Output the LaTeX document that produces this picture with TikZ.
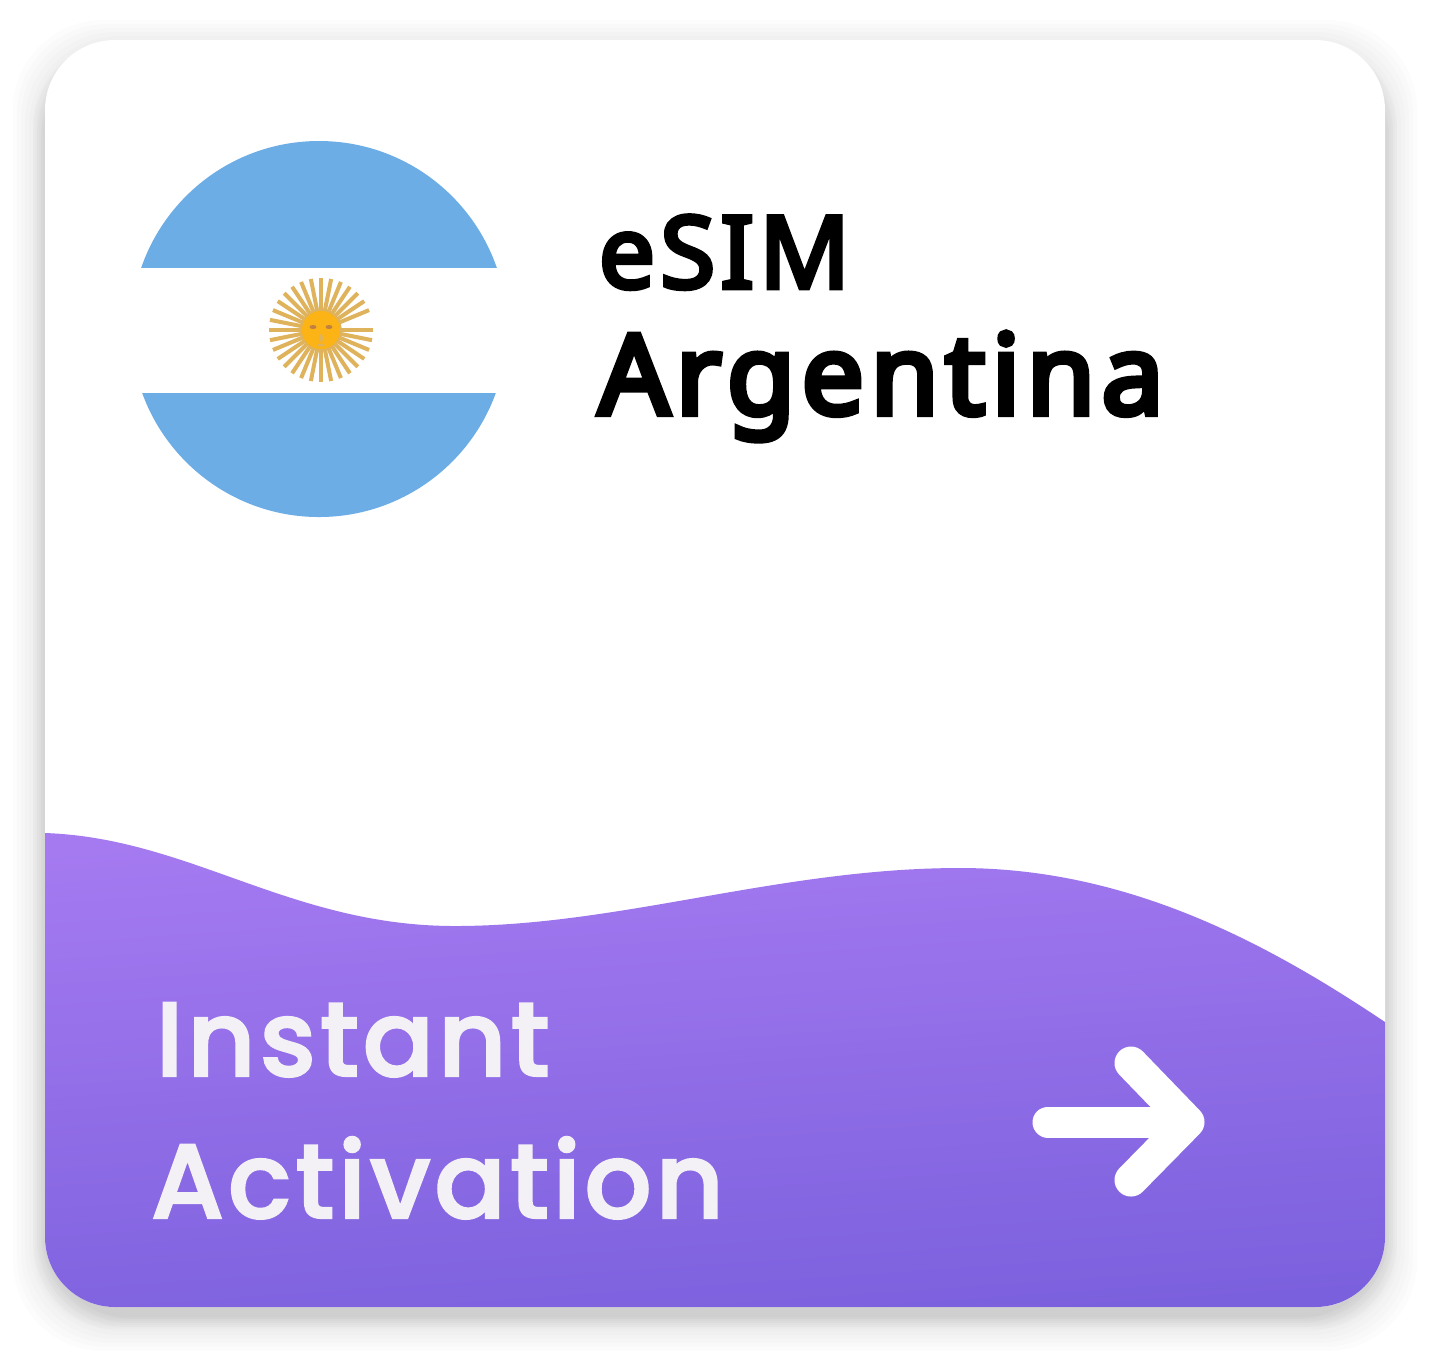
\documentclass[tikz,border=0pt]{standalone}
\usepackage{fontspec}
\setmainfont{Noto Sans}
\newfontfamily\waveface[LetterSpace=3.6,FakeBold=2]{Poppins Medium}
\newfontfamily\titleface[LetterSpace=5,FakeBold=4.5]{Noto Sans}
\newfontfamily\countryface[LetterSpace=5.8,FakeBold=5.5]{Noto Sans}
\definecolor{flagblue}{HTML}{6CADE6}
\definecolor{raygold}{HTML}{DFB25C}
\definecolor{sunyellow}{HTML}{FCB316}
\definecolor{waveTop}{HTML}{A57AF1}
\definecolor{waveBot}{HTML}{7B60DD}
\definecolor{waveText}{HTML}{F3F1F6}
\tikzset{
  waveLabel/.style={anchor=base west,inner sep=0pt,text=waveText,font=\waveface\fontsize{30}{30}\selectfont},
  titleLabel/.style={anchor=base west,inner sep=0pt}
}
\begin{document}
\begin{tikzpicture}[x=0.01cm,y=-0.01cm]
\useasboundingbox (0,0) rectangle (1436,1362);
\fill[white] (0,0) rectangle (1436,1362);
% shadow
\foreach \g in {0,2,...,16}
  \fill[black,opacity=0.01,rounded corners=0.9cm] (45-\g*2,52-\g*2) rectangle (1385+\g*2,1319+\g*2);
\foreach \g in {0,2,...,12}
  \fill[black,opacity=0.012,rounded corners=0.8cm] (45-\g,56-\g) rectangle (1385+\g,1317+\g);
% card
\fill[white,rounded corners=0.7cm] (45,40) rectangle (1385,1307);
\begin{scope}
\clip[rounded corners=0.7cm] (45,40) rectangle (1385,1307);
\shade[top color=waveTop,bottom color=waveBot,shading angle=4]
  (45,833) .. controls (190,838) and (290,926) .. (455,926)
  .. controls (620,926) and (780,868) .. (960,868)
  .. controls (1130,868) and (1270,945) .. (1385,1022)
  -- (1385,1307) -- (45,1307) -- cycle;
\end{scope}
% flag
\begin{scope}
\clip (319,329) circle (188);
\fill[flagblue] (100,130) rectangle (540,268);
\fill[flagblue] (100,393) rectangle (540,530);
\end{scope}
% sun
\foreach \a in {0,11.25,...,348}
  \draw[raygold,line width=0.04cm] (321,330) ++(\a:20) -- ++(\a:32);
\fill[sunyellow,draw=raygold,line width=0.015cm] (321,330) circle (20);
\fill[brown] (313,327) ellipse (3.5 and 2) (329,327) ellipse (3.5 and 2);
\fill[raygold] (321,338) ellipse (2 and 4) (321,345) ellipse (4 and 1.5);
% labels
\node[titleLabel,font=\titleface\fontsize{28.5}{28.5}\selectfont] (esim) at (598,288) {eSIM};
\node[titleLabel,font=\countryface\fontsize{31.5}{31.5}\selectfont] (country) at (598,414) {Argentina};
\node[waveLabel] (instant) at (155,1076) {Instant};
\node[waveLabel] (activation) at (150,1218) {Activation};
% arrow
\coordinate (tail) at (1048,1122);
\coordinate (tip) at (1188,1122);
\coordinate (armUp) at (1131,1063);
\coordinate (armDown) at (1131,1180);
\draw[white,line width=0.31cm,line cap=round] (tail) -- (tip);
\draw[white,line width=0.33cm,line cap=round,line join=round] (armUp) -- (tip) -- (armDown);
\end{tikzpicture}
\end{document}
